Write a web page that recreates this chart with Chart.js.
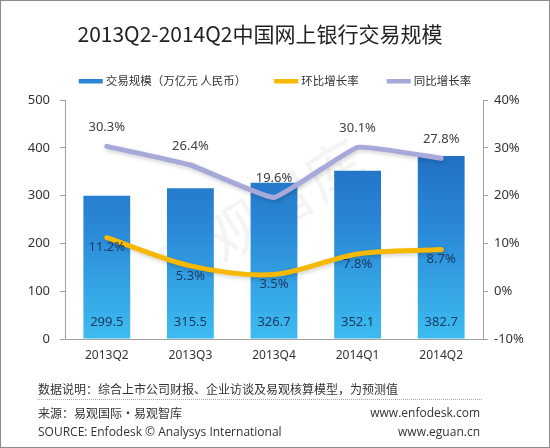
<!DOCTYPE html>
<html>
<head>
<meta charset="utf-8">
<script src="https://cdn.jsdelivr.net/npm/chart.js@4/dist/chart.umd.min.js"></script>
<style>
  html, body { margin: 0; padding: 0; background: #fff; }
  #wrap { position: relative; width: 550px; height: 448px; overflow: hidden; }
  #frame { position: absolute; left: 0; top: 0; width: 548px; height: 446px; border: 1px solid #8c8c8c; pointer-events: none; }
  canvas { position: absolute; left: 0; top: 0; }
  .ft { position: absolute; font-family: "Noto Sans CJK SC", "Noto Sans", sans-serif; font-size: 12px; color: #333; white-space: nowrap; line-height: 14px; }
  #dots { position: absolute; left: 37px; top: 399px; width: 445px; border-top: 1px dotted #aaa; }
</style>
</head>
<body>
<div id="wrap">
  <canvas id="c" width="550" height="448"></canvas>
  <div class="ft" style="left:38px; top:382px;">数据说明：综合上市公司财报、企业访谈及易观核算模型，为预测值</div>
  <div id="dots"></div>
  <div class="ft" style="left:38px; top:406px;">来源：易观国际·易观智库</div>
  <div class="ft" style="left:38px; top:425px; font-family: 'Open Sans','Noto Sans',sans-serif;">SOURCE: Enfodesk © Analysys International</div>
  <div class="ft" style="right:70px; top:406px; font-family: 'Open Sans','Noto Sans',sans-serif;">www.enfodesk.com</div>
  <div class="ft" style="right:70px; top:425px; font-family: 'Open Sans','Noto Sans',sans-serif;">www.eguan.cn</div>
  <div id="frame"></div>
</div>
<script>
const categories = ['2013Q2', '2013Q3', '2013Q4', '2014Q1', '2014Q2'];
const volume = [299.5, 315.5, 326.7, 352.1, 382.7];
const qoqGrowth = [11.2, 5.3, 3.5, 7.8, 8.7];
const yoyGrowth = [30.3, 26.4, 19.6, 30.1, 27.8];
const leftTicks = [0, 100, 200, 300, 400, 500];
const rightTicks = [-10, 0, 10, 20, 30, 40];
const seriesNames = ['交易规模（万亿元 人民币）', '环比增长率', '同比增长率'];
const chartTitle = '2013Q2-2014Q2中国网上银行交易规模';

const FONT = '"Noto Sans", "Noto Sans CJK SC", sans-serif';
const CJK = '"Noto Sans CJK SC", sans-serif';

function barGradient(ctx) {
  const chart = ctx.chart;
  const area = chart.chartArea;
  if (!area) return '#2a7fd0';
  const g = chart.ctx.createLinearGradient(0, area.top, 0, area.bottom);
  g.addColorStop(0, '#1a5db5');
  g.addColorStop(0.55, '#2b8ad8');
  g.addColorStop(1, '#3dbcf0');
  return g;
}

const labelPlugin = {
  id: 'valueLabels',
  afterDatasetsDraw(chart) {
    const ctx = chart.ctx;
    ctx.save();
    ctx.font = '13px ' + FONT;
    ctx.textAlign = 'center';
    ctx.textBaseline = 'middle';
    const mb = chart.getDatasetMeta(0);
    mb.data.forEach((el, i) => {
      ctx.fillStyle = '#1b3a63';
      ctx.fillText(volume[i].toFixed(1), el.x, chart.chartArea.bottom - 17);
    });
    const mq = chart.getDatasetMeta(1);
    mq.data.forEach((el, i) => {
      ctx.fillStyle = '#1b3a63';
      ctx.fillText(qoqGrowth[i].toFixed(1) + '%', el.x, el.y + 10);
    });
    const my = chart.getDatasetMeta(2);
    my.data.forEach((el, i) => {
      ctx.fillStyle = '#404040';
      ctx.fillText(yoyGrowth[i].toFixed(1) + '%', el.x, el.y - 19);
    });
    ctx.restore();
  }
};

const shadowPlugin = {
  id: 'lineShadow',
  beforeDatasetDraw(chart, args) {
    if (args.index > 0) {
      const ctx = chart.ctx;
      ctx.save();
      ctx.shadowColor = 'rgba(0,0,0,0.18)';
      ctx.shadowBlur = 4;
      ctx.shadowOffsetX = 1;
      ctx.shadowOffsetY = 2;
    }
  },
  afterDatasetDraw(chart, args) {
    if (args.index > 0) chart.ctx.restore();
  }
};

const watermark = {
  id: 'watermark',
  beforeDatasetsDraw(chart) {
    const ctx = chart.ctx;
    ctx.save();
    ctx.translate(260, 215);
    ctx.rotate(-0.55);
    ctx.font = '58px ' + CJK;
    ctx.fillStyle = 'rgba(150,150,150,0.10)';
    ctx.textAlign = 'center';
    ctx.textBaseline = 'middle';
    ctx.fillText('易观智库', 0, 0);
    ctx.restore();
  }
};

const headerPlugin = {
  id: 'header',
  afterDraw(chart) {
    const ctx = chart.ctx;
    ctx.save();
    ctx.font = '21px ' + CJK;
    ctx.fillStyle = '#222';
    ctx.textAlign = 'center';
    ctx.textBaseline = 'middle';
    ctx.fillText(chartTitle, 260, 34);
    ctx.font = '11.5px ' + CJK;
    ctx.textAlign = 'left';
    const boxW = 24, gapBoxText = 3, gapItems = 28, ly = 81;
    const items = chart.data.datasets.map((ds, i) => ({
      text: ds.label,
      color: i === 0 ? '#2c84d4' : ds.borderColor,
      w: ctx.measureText(ds.label).width
    }));
    const total = items.reduce((s, it) => s + boxW + gapBoxText + it.w, 0) + gapItems * (items.length - 1);
    let x = 275 - total / 2;
    items.forEach(it => {
      ctx.fillStyle = it.color;
      ctx.fillRect(x, ly - 2, boxW, 4.5);
      x += boxW + gapBoxText;
      ctx.fillStyle = '#333';
      ctx.fillText(it.text, x, ly);
      x += it.w + gapItems;
    });
    ctx.restore();
  }
};

new Chart(document.getElementById('c'), {
  data: {
    labels: categories,
    datasets: [
      {
        type: 'bar', label: seriesNames[0], data: volume, yAxisID: 'y',
        backgroundColor: barGradient, borderWidth: 0,
        categoryPercentage: 0.56, barPercentage: 1.0, order: 3
      },
      {
        type: 'line', label: seriesNames[1], data: qoqGrowth, yAxisID: 'y1',
        borderColor: '#f6b800', backgroundColor: '#f6b800', borderWidth: 5,
        pointRadius: 0, tension: 0.3, borderCapStyle: 'round', borderJoinStyle: 'round', order: 2
      },
      {
        type: 'line', label: seriesNames[2], data: yoyGrowth, yAxisID: 'y1',
        borderColor: '#a7a9d9', backgroundColor: '#a7a9d9', borderWidth: 5,
        pointRadius: 0, tension: 0.1, borderCapStyle: 'round', borderJoinStyle: 'round', order: 1
      }
    ]
  },
  options: {
    responsive: false,
    animation: false,
    layout: { padding: { left: 0, right: 0, top: 100, bottom: 84 } },
    plugins: {
      title: { display: false },
      legend: { display: false },
      tooltip: { enabled: false }
    },
    scales: {
      x: {
        grid: { display: false, drawTicks: false },
        border: { color: '#a0a0a0' },
        ticks: { color: '#333', font: { family: FONT, size: 12 }, padding: 9 },
        afterFit(s) { s.height = 25; }
      },
      y: {
        position: 'left', min: 0, max: 500,
        afterBuildTicks(s) { s.ticks = leftTicks.map(v => ({ value: v })); },
        grid: { drawOnChartArea: false, drawTicks: true, tickLength: 5, color: '#a0a0a0' },
        border: { color: '#a0a0a0' },
        ticks: { color: '#333', font: { family: FONT, size: 13 }, padding: 10 },
        afterFit(s) { s.width = 65; }
      },
      y1: {
        position: 'right', min: -10, max: 40,
        afterBuildTicks(s) { s.ticks = rightTicks.map(v => ({ value: v })); },
        grid: { drawOnChartArea: false, drawTicks: true, tickLength: 5, color: '#a0a0a0' },
        border: { color: '#a0a0a0' },
        ticks: { color: '#333', font: { family: FONT, size: 13 }, padding: 6, callback: v => v + '%' },
        afterFit(s) { s.width = 67; }
      }
    }
  },
  plugins: [labelPlugin, shadowPlugin, watermark, headerPlugin]
});
</script>
</body>
</html>
